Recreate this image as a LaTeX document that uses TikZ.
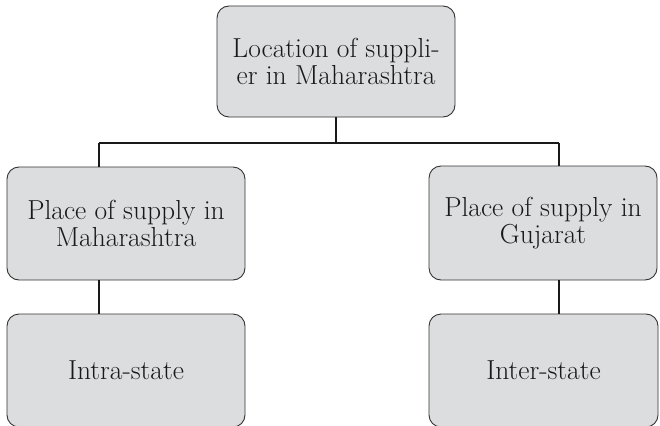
\documentclass[tikz,border=0pt]{standalone}
\usepackage{tikz}
\definecolor{boxfill}{HTML}{DCDDDF}
\definecolor{boxline}{HTML}{333333}
\tikzset{
  box/.style={draw=boxline, line width=0.9pt, fill=boxfill, rounded corners=12pt,
    inner sep=0pt, align=center, font=\fontsize{27.5}{27.5}\selectfont,
    text=black!90},
  conn/.style={draw=black!90, line width=1.6pt}
}
\begin{document}
\begin{tikzpicture}[x=1pt,y=-1pt]
\path[use as bounding box, clip] (0,0) rectangle (660,425);
\node[box, minimum width=238pt, minimum height=111pt] (top) at (336,61.5)
  {Location of suppli-\\er in Maharashtra};
\node[box, minimum width=238pt, minimum height=113pt] (lm) at (126,223.5)
  {Place of supply in\\Maharashtra};
\node[box, minimum width=228pt, minimum height=114pt] (rm) at (543,223)
  {Place of supply in\\Gujarat};
\node[box, minimum width=238pt, minimum height=113pt] (lb) at (126,370.5)
  {Intra-state};
\node[box, minimum width=229pt, minimum height=113pt] (rb) at (543.5,370.5)
  {Inter-state};
\coordinate (jl) at (99,143);
\coordinate (jr) at (559,143);
\draw[conn] (top.south) -- (top.south |- jl);
\draw[conn] (jl) -- (jr);
\draw[conn] (jl) -- (jl |- lm.north);
\draw[conn] (jr) -- (jr |- rm.north);
\draw[conn] (jl |- lm.south) -- (jl |- lb.north);
\draw[conn] (jr |- rm.south) -- (jr |- rb.north);
\end{tikzpicture}
\end{document}
